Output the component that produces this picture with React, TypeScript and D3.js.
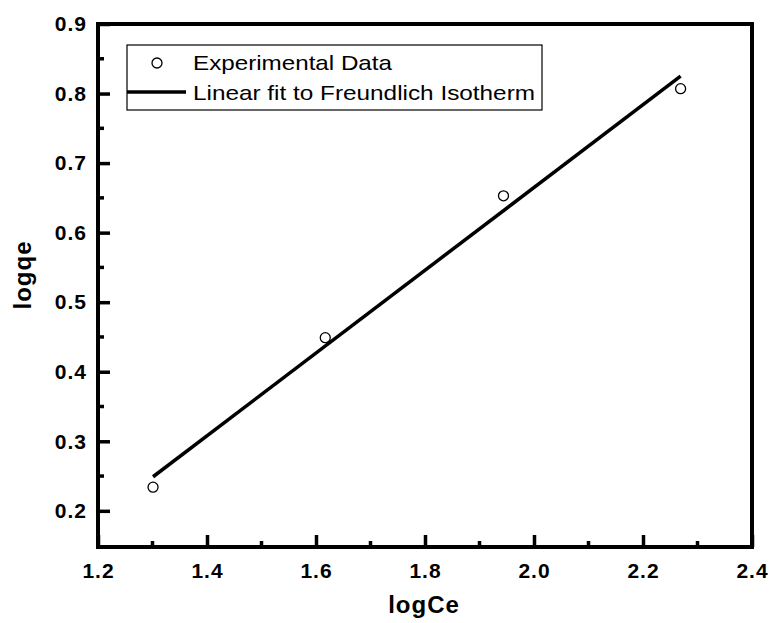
import React, { useEffect, useRef } from 'react'
import * as d3 from 'd3'

// measured points (logCe, logqe)
const logCe = [1.301, 1.617, 1.944, 2.269]
const logQe = [0.234, 0.449, 0.653, 0.807]

// linear fit endpoints
const fitX = [1.301, 2.269]
const fitY = [0.249, 0.825]

const xTicks = [1.2, 1.4, 1.6, 1.8, 2.0, 2.2, 2.4]
const yTicks = [0.2, 0.3, 0.4, 0.5, 0.6, 0.7, 0.8, 0.9]

const legendLabels = ['Experimental Data', 'Linear fit to Freundlich Isotherm']
const legendWidths = [199, 342]

export default function App() {
  const ref = useRef<SVGSVGElement>(null)

  useEffect(() => {
    const W = 770, H = 623
    const margin = { top: 24, right: 18, bottom: 76, left: 98 }
    const width = W - margin.left - margin.right
    const height = H - margin.top - margin.bottom

    const svg = d3.select(ref.current)
    svg.selectAll('*').remove()

    const g = svg.append('g')
      .attr('transform', 'translate(' + margin.left + ',' + margin.top + ')')

    const x = d3.scaleLinear().domain([1.2, 2.4]).range([0, width])
    const y = d3.scaleLinear().domain([0.148, 0.9]).range([height, 0])

    const boldFont = 'Arial, "Liberation Sans", sans-serif'

    // x axis, ticks pointing inward
    const xAxis = g.append('g')
      .attr('transform', 'translate(0,' + height + ')')
      .call(d3.axisBottom(x).tickValues(xTicks).tickSize(-12).tickPadding(16)
        .tickFormat(d3.format('.1f')))
    xAxis.select('.domain').remove()
    xAxis.selectAll('line').attr('stroke-width', 3.5)
    xAxis.selectAll('text')
      .attr('font-family', boldFont).attr('font-weight', 'bold')
      .attr('font-size', 21).attr('letter-spacing', 1).attr('fill', '#000')

    const xMinor = d3.range(1.3, 2.4, 0.2)
    g.append('g').selectAll('line').data(xMinor).enter().append('line')
      .attr('x1', d => x(d)).attr('x2', d => x(d))
      .attr('y1', height).attr('y2', height - 6)
      .attr('stroke', '#000').attr('stroke-width', 3.5)

    // y axis
    const yAxis = g.append('g')
      .call(d3.axisLeft(y).tickValues(yTicks).tickSize(-12).tickPadding(11)
        .tickFormat(d3.format('.1f')))
    yAxis.select('.domain').remove()
    yAxis.selectAll('line').attr('stroke-width', 3.5)
    yAxis.selectAll('text')
      .attr('font-family', boldFont).attr('font-weight', 'bold')
      .attr('font-size', 21).attr('letter-spacing', 1).attr('fill', '#000')

    const yMinor = d3.range(0.25, 0.9, 0.1)
    g.append('g').selectAll('line').data(yMinor).enter().append('line')
      .attr('x1', 0).attr('x2', 6)
      .attr('y1', d => y(d)).attr('y2', d => y(d))
      .attr('stroke', '#000').attr('stroke-width', 3.5)

    // frame
    g.append('rect')
      .attr('x', 0).attr('y', 0).attr('width', width).attr('height', height)
      .attr('fill', 'none').attr('stroke', '#000').attr('stroke-width', 4)

    // fit line
    const line = d3.line<number>()
      .x(d => x(d))
      .y((d, i) => y(fitY[i]))
    g.append('path')
      .attr('d', line(fitX))
      .attr('fill', 'none').attr('stroke', '#000').attr('stroke-width', 3.5)

    // experimental points
    g.selectAll('.pt').data(logCe).enter().append('circle')
      .attr('class', 'pt')
      .attr('cx', d => x(d))
      .attr('cy', (d, i) => y(logQe[i]))
      .attr('r', 5)
      .attr('fill', '#fff').attr('stroke', '#000').attr('stroke-width', 1.3)

    // legend
    const lg = svg.append('g').attr('transform', 'translate(127,45)')
    lg.append('rect')
      .attr('width', 415).attr('height', 65)
      .attr('fill', '#fff').attr('stroke', '#000').attr('stroke-width', 1.2)
    lg.append('circle')
      .attr('cx', 30).attr('cy', 18).attr('r', 5)
      .attr('fill', '#fff').attr('stroke', '#000').attr('stroke-width', 1.3)
    lg.append('line')
      .attr('x1', 0).attr('x2', 59).attr('y1', 47).attr('y2', 47)
      .attr('stroke', '#000').attr('stroke-width', 3.5)
    lg.selectAll('.lt').data(legendLabels).enter().append('text')
      .attr('class', 'lt')
      .attr('x', 66)
      .attr('y', (d, i) => 25 + i * 30)
      .attr('font-family', 'Arial, "Liberation Sans", sans-serif')
      .attr('font-size', 21)
      .attr('textLength', (d, i) => legendWidths[i])
      .attr('lengthAdjust', 'spacingAndGlyphs')
      .attr('fill', '#000')
      .text(d => d)

    // axis titles
    svg.append('text')
      .attr('x', 424).attr('y', 613)
      .attr('text-anchor', 'middle')
      .attr('font-family', boldFont).attr('font-weight', 'bold').attr('font-size', 24)
      .attr('letter-spacing', 1)
      .text('logCe')
    svg.append('text')
      .attr('transform', 'translate(31,275) rotate(-90)')
      .attr('text-anchor', 'middle')
      .attr('font-family', boldFont).attr('font-weight', 'bold').attr('font-size', 24)
      .attr('letter-spacing', 1)
      .text('logqe')
  }, [])

  return (
    <svg ref={ref} width={770} height={623}
      style={{ position: 'absolute', left: 0, top: 0, background: '#fff' }} />
  )
}
